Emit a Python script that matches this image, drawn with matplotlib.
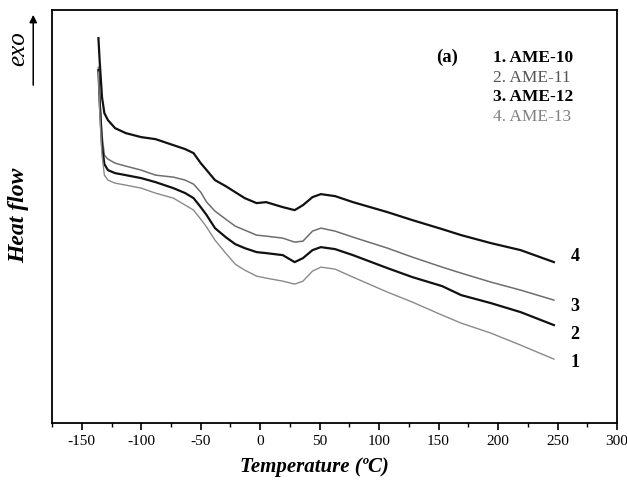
import matplotlib
matplotlib.use("Agg")
import matplotlib.pyplot as plt
import matplotlib.patches as mpatches
import numpy as np

plt.rcParams["font.family"] = ["Liberation Serif", "DejaVu Serif"]
plt.rcParams["axes.unicode_minus"] = False

# temperature grid (degC)
temp = [-136, -135, -133, -131, -128, -122, -113, -100, -88, -73, -63, -56, -50,
        -45, -38, -29, -21, -13, -3, 5, 19, 29, 36, 44, 51, 63, 78, 107, 128,
        153, 169, 194, 219, 247]

# heat flow, arbitrary units (higher = more exo)
hf_ame13 = [385, 363, 326, 310, 303, 295, 290, 286, 284, 278, 274, 270, 260,
            253, 243, 237, 231, 225, 220, 221, 216, 213, 218, 226, 229, 227,
            221, 211, 203, 194, 188, 180, 173, 161]
hf_ame12 = [356, 328, 288, 268, 264, 260, 257, 253, 248, 246, 243, 239, 231,
            221, 212, 204, 197, 193, 188, 187, 185, 181, 182, 192, 195, 192,
            186, 175, 166, 156, 150, 141, 133, 123]
hf_ame11 = [353, 323, 278, 259, 253, 250, 248, 245, 241, 235, 230, 225, 216,
            208, 195, 186, 179, 175, 171, 170, 168, 161, 165, 173, 176, 174,
            168, 155, 146, 137, 128, 120, 111, 98]
hf_ame10 = [351, 313, 268, 248, 243, 240, 238, 235, 230, 225, 218, 213, 204,
            196, 183, 170, 159, 153, 147, 145, 142, 139, 142, 152, 156, 154,
            146, 131, 121, 108, 100, 90, 78, 64]

legend_names = ["1. AME-10", "2. AME-11", "3. AME-12", "4. AME-13"]

fig = plt.figure(figsize=(6.27, 4.83), dpi=100)
ax = fig.add_axes([0.083, 0.124, 0.901, 0.855])

series = [
    (hf_ame13, "#111111", 1.6, "4"),
    (hf_ame12, "#6e6e6e", 1.1, "3"),
    (hf_ame11, "#111111", 1.6, "2"),
    (hf_ame10, "#8a8a8a", 1.0, "1"),
]
for vals, col, lw, num in series:
    ax.plot(temp, vals, color=col, lw=lw)

# curve numbers at the right end
for num, y in [("4", 167), ("3", 117), ("2", 89), ("1", 61)]:
    ax.text(261, y, num, fontsize=13, fontweight="bold", va="center")

ax.text(157, 366, "(a)", fontsize=13.5, fontweight="bold", va="center", ha="center")
legend_styles = [("#000000", "bold"), ("#555555", "normal"),
                 ("#000000", "bold"), ("#808080", "normal")]
for i, (name, (col, wt)) in enumerate(zip(legend_names, legend_styles)):
    ax.text(196, 365 - i * 19.6, name, fontsize=12.5, fontweight=wt, color=col, va="center")

ax.set_xlim(-171, 300)
ax.set_ylim(0, 413)
ax.set_xticks(np.arange(-150, 301, 50))
ax.set_xticks(np.arange(-175, 301, 25), minor=True)
ax.set_yticks([])
ax.tick_params(axis="x", which="major", length=5, width=1.2, labelsize=11, direction="out")
ax.tick_params(axis="x", which="minor", length=3, width=1.0, direction="out")
for s in ax.spines.values():
    s.set_linewidth(1.3)

fig.text(0.502, 0.034, "Temperature (ºC)", fontsize=15, fontweight="bold", style="italic",
         ha="center", va="center")
fig.text(0.030, 0.555, "Heat flow", fontsize=17, fontweight="bold", style="italic",
         rotation=90, ha="center", va="center")
fig.text(0.029, 0.90, "exo", fontsize=18, style="italic", rotation=90,
         ha="center", va="center")
fig.patches.append(mpatches.FancyArrowPatch(
    (0.053, 0.818), (0.053, 0.975), transform=fig.transFigure,
    arrowstyle="-|>", mutation_scale=11, color="black", lw=1.1))

fig.savefig("out.png", dpi=100)
